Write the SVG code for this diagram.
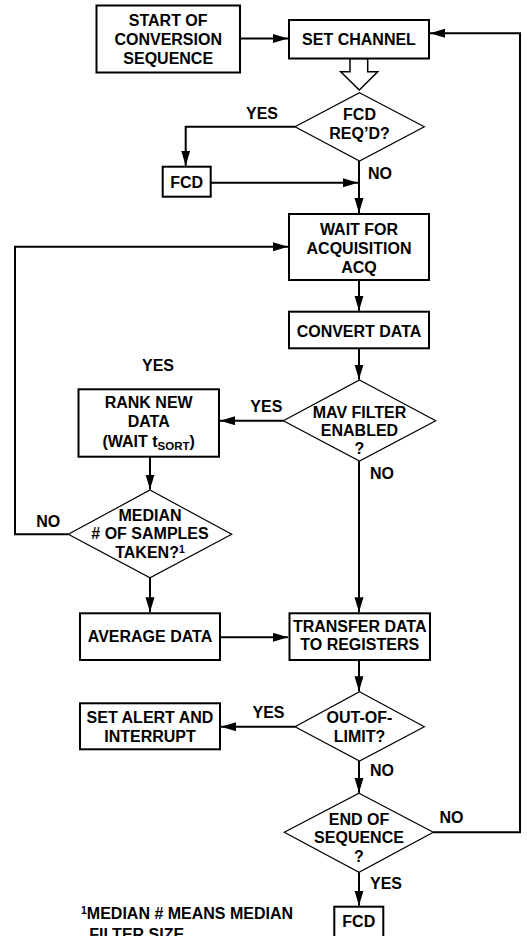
<svg xmlns="http://www.w3.org/2000/svg" width="527" height="936" viewBox="0 0 527 936">
<style>
.box{fill:#fff;stroke:#000;stroke-width:2}
.dia{fill:#fff;stroke:#000;stroke-width:1.2}
.ln{fill:none;stroke:#000;stroke-width:2}
text{font-family:"Liberation Sans",Arial,sans-serif;font-weight:bold;font-size:16px;fill:#000}
.c{text-anchor:middle}
.sub{font-size:11.5px}
.sup{font-size:10.5px}
</style>
<defs>
<marker id="ah" markerUnits="userSpaceOnUse" markerWidth="16" markerHeight="10" refX="15" refY="4.5" orient="auto">
<path d="M0,0 L15,4.5 L0,9 z" fill="#000"/>
</marker>
</defs>
<rect width="527" height="936" fill="#fff"/>
<g id="connectors">
<path class="ln" d="M240,38.5 H288" marker-end="url(#ah)"/>
<path class="ln" d="M295,126.7 H185.7 V165.7" marker-end="url(#ah)"/>
<path class="ln" d="M210.7,182.7 H358" marker-end="url(#ah)"/>
<path class="ln" d="M359,161 V213" marker-end="url(#ah)"/>
<path class="ln" d="M68.3,534.3 H15 V246.7 H288" marker-end="url(#ah)"/>
<path class="ln" d="M359,280 V310.7" marker-end="url(#ah)"/>
<path class="ln" d="M359,348.3 V379.5" marker-end="url(#ah)"/>
<path class="ln" d="M283.3,420.7 H220" marker-end="url(#ah)"/>
<path class="ln" d="M150,456.7 V489.5" marker-end="url(#ah)"/>
<path class="ln" d="M150,577.7 V612.3" marker-end="url(#ah)"/>
<path class="ln" d="M359,461 V612.3" marker-end="url(#ah)"/>
<path class="ln" d="M220,637.3 H288" marker-end="url(#ah)"/>
<path class="ln" d="M359,660 V691.2" marker-end="url(#ah)"/>
<path class="ln" d="M295,726.7 H221" marker-end="url(#ah)"/>
<path class="ln" d="M359,761 V792.8" marker-end="url(#ah)"/>
<path class="ln" d="M433.3,832.3 H520 V33.3 H430" marker-end="url(#ah)"/>
<path class="ln" d="M359,872.3 V905.7" marker-end="url(#ah)"/>
<polygon points="350,58.5 350,71.7 340.7,71.7 359.3,90 377.7,71.7 367.7,71.7 367.7,58.5" fill="#fff" stroke="#000" stroke-width="1.5"/>
</g>
<g id="start">
<rect class="box" x="96.5" y="5.5" width="143.5" height="67"/>
<text class="c" x="168.2" y="25.5">START OF</text>
<text class="c" x="168.2" y="44.5">CONVERSION</text>
<text class="c" x="168.2" y="63.5">SEQUENCE</text>
</g>
<g id="setchannel">
<rect class="box" x="289" y="20" width="140" height="38.5"/>
<text class="c" x="359" y="44.5">SET CHANNEL</text>
</g>
<g id="fcdreq">
<polygon class="dia" points="359.5,92.7 424.3,126.7 359.5,161 295,126.7"/>
<text class="c" x="359.5" y="120">FCD</text>
<text class="c" x="359.5" y="139">REQ’D?</text>
<text class="c" x="262" y="119">YES</text>
<text x="368" y="179">NO</text>
</g>
<g id="fcd1">
<rect class="box" x="162.7" y="166.7" width="48" height="30"/>
<text class="c" x="186.7" y="188">FCD</text>
</g>
<g id="wait">
<rect class="box" x="289" y="214" width="140" height="66"/>
<text class="c" x="359" y="235">WAIT FOR</text>
<text class="c" x="359" y="254.3">ACQUISITION</text>
<text class="c" x="359" y="272.7">ACQ</text>
</g>
<g id="convert">
<rect class="box" x="289" y="311.7" width="140" height="36.6"/>
<text class="c" x="359" y="336.7">CONVERT DATA</text>
</g>
<g id="mav">
<polygon class="dia" points="359.5,380 435.7,420.7 359.5,461 283.3,420.7"/>
<text class="c" x="359.5" y="418.3">MAV FILTER</text>
<text class="c" x="359.5" y="436">ENABLED</text>
<text class="c" x="359.5" y="454">?</text>
<text class="c" x="266.3" y="411.7">YES</text>
<text x="370" y="479.3">NO</text>
<text class="c" x="158" y="370.7">YES</text>
</g>
<g id="rank">
<rect class="box" x="78.5" y="389.3" width="140.5" height="67.4"/>
<text class="c" x="148.7" y="408.3">RANK NEW</text>
<text class="c" x="148.7" y="426.7">DATA</text>
<text class="c" x="148.7" y="446.7">(WAIT t<tspan class="sub" dy="3.5">SORT</tspan><tspan dy="-3.5">)</tspan></text>
</g>
<g id="median">
<polygon class="dia" points="150,490 231.7,534.3 150,577.7 68.3,534.3"/>
<text class="c" x="150" y="520.7">MEDIAN</text>
<text class="c" x="150" y="539.3"># OF SAMPLES</text>
<text class="c" x="150" y="557.7">TAKEN?<tspan class="sup" dy="-5">1</tspan></text>
<text class="c" x="48.3" y="527.3">NO</text>
</g>
<g id="average">
<rect class="box" x="80" y="613.3" width="140" height="46.7"/>
<text class="c" x="150" y="641.7">AVERAGE DATA</text>
</g>
<g id="transfer">
<rect class="box" x="289.5" y="613.3" width="140.5" height="46.7"/>
<text class="c" x="359.7" y="631.7">TRANSFER DATA</text>
<text class="c" x="359.7" y="650">TO REGISTERS</text>
</g>
<g id="outoflimit">
<polygon class="dia" points="359.5,691.7 424.3,726.7 359.5,761 295,726.7"/>
<text class="c" x="359.5" y="722.7">OUT-OF-</text>
<text class="c" x="359.5" y="741.7">LIMIT?</text>
<text class="c" x="268.5" y="718.3">YES</text>
<text x="370" y="776">NO</text>
</g>
<g id="setalert">
<rect class="box" x="80" y="703.3" width="140" height="46"/>
<text class="c" x="150" y="723.3">SET ALERT AND</text>
<text class="c" x="150" y="741.7">INTERRUPT</text>
</g>
<g id="endseq">
<polygon class="dia" points="359,793.3 433.3,832.3 359,872.3 284.3,832.3"/>
<text class="c" x="359" y="825">END OF</text>
<text class="c" x="359" y="843.3">SEQUENCE</text>
<text class="c" x="359" y="861.7">?</text>
<text class="c" x="451.5" y="822.7">NO</text>
<text x="370" y="889.3">YES</text>
</g>
<g id="fcd2">
<rect class="box" x="334.3" y="906.7" width="49" height="40"/>
<text class="c" x="358.8" y="926.7">FCD</text>
</g>
<g id="footnote">
<text x="81" y="919.3"><tspan class="sup" dy="-5">1</tspan><tspan dy="5">MEDIAN # MEANS MEDIAN</tspan></text>
<text x="89.3" y="939.5">FILTER SIZE.</text>
</g>
</svg>
